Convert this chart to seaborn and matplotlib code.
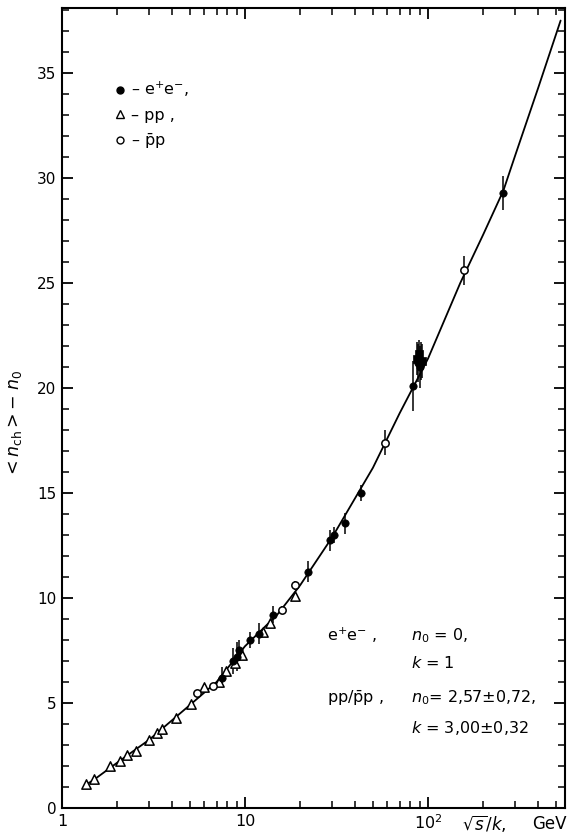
import numpy as np
import pandas as pd
import matplotlib
matplotlib.use("Agg")
import matplotlib.pyplot as plt
from matplotlib.lines import Line2D
from matplotlib.ticker import FixedLocator, MultipleLocator, LogLocator, NullFormatter
import seaborn as sns

# --- values -----------------------------------------------------------------
# fitted curve
CURVE_X = [1.35, 1.5, 2, 3, 5, 7, 10, 15, 20, 30, 50, 70, 100, 150, 200, 258,
           300, 400, 530]
CURVE_Y = [1.1, 1.35, 2.15, 3.25, 4.9, 6.0, 7.7, 9.2, 10.6, 12.9, 16.2, 18.8,
           21.4, 25.0, 27.3, 29.4, 31.1, 34.3, 37.5]

# pp (open triangles)
PP_X = [1.36, 1.50, 1.83, 2.07, 2.26, 2.53, 2.99, 3.29, 3.53, 4.20, 5.05, 6.0,
        7.2, 7.9, 8.8, 9.6, 12.5, 13.7, 18.8]
PP_Y = [1.14, 1.38, 2.0, 2.24, 2.52, 2.71, 3.24, 3.56, 3.75, 4.30, 4.94, 5.74,
        6.0, 6.5, 6.9, 7.3, 8.4, 8.8, 10.1]

# pbar-p (open circles)
PBP_X = [5.45, 6.65, 15.9, 18.8, 58.5, 157]
PBP_Y = [5.46, 5.8, 9.43, 10.6, 17.4, 25.6]
PBP_ERR = [0.0, 0.0, 0.2, 0.2, 0.6, 0.7]

# e+e- (solid circles)
EE_X = [7.5, 8.6, 9.0, 9.3, 10.6, 12.0, 14.2, 22.2, 29.1, 30.5, 35.3, 43,
        83, 88, 90, 92, 258]
EE_Y = [6.2, 7.0, 7.2, 7.5, 8.0, 8.3, 9.2, 11.25, 12.76, 13.0, 13.57, 15.0,
        20.1, 21.2, 21.0, 21.3, 29.3]
EE_ERR = [0.5, 0.6, 0.7, 0.5, 0.4, 0.5, 0.4, 0.5, 0.5, 0.4, 0.5, 0.4,
          1.2, 0.9, 1.0, 0.9, 0.8]

# e+e- near the Z pole (solid squares)
EEZ_X = [87, 89.5, 92.5]
EEZ_Y = [21.4, 21.6, 21.3]
EEZ_ERR = [0.8, 0.7, 0.8]

Y_TICKS = [0, 5, 10, 15, 20, 25, 30, 35]
X_TICKS = [1, 10, 100]
X_TICKLABELS = ["1", "10", "10$^2$"]

# --- style -------------------------------------------------------------------
sns.set_theme(style="ticks")
plt.rcParams.update({
    "font.family": ["DejaVu Sans"],
    "mathtext.fontset": "dejavusans",
    "font.size": 10,
    "text.color": "black",
    "axes.labelcolor": "black",
    "axes.linewidth": 1.5,
    "axes.edgecolor": "black",
    "xtick.direction": "in",
    "ytick.direction": "in",
    "xtick.top": True,
    "ytick.right": True,
    "xtick.color": "black",
    "ytick.color": "black",
    "xtick.labelsize": 11.5,
    "ytick.labelsize": 11,
})

fig = plt.figure(figsize=(5.73, 8.39), dpi=100)
ax = fig.add_axes([0.108, 0.037, 0.878, 0.9535])
ax.set_xscale("log")

curve = pd.DataFrame({"x": CURVE_X, "y": CURVE_Y})
sns.lineplot(data=curve, x="x", y="y", color="black", lw=1.3, ax=ax, zorder=2)

ax.errorbar(EE_X, EE_Y, yerr=EE_ERR, fmt="none", ecolor="black", elinewidth=1.1, zorder=3)
ax.errorbar(EEZ_X, EEZ_Y, yerr=EEZ_ERR, fmt="none", ecolor="black", elinewidth=1.1, zorder=3)
ax.errorbar(PBP_X, PBP_Y, yerr=PBP_ERR, fmt="none", ecolor="black", elinewidth=1.1, zorder=3)

sns.scatterplot(x=PP_X, y=PP_Y, marker="^", s=45, facecolor="white",
                edgecolor="black", linewidth=1.1, ax=ax, zorder=4)
sns.scatterplot(x=PBP_X, y=PBP_Y, marker="o", s=28, facecolor="white",
                edgecolor="black", linewidth=1.1, ax=ax, zorder=4)
sns.scatterplot(x=EE_X, y=EE_Y, marker="o", s=28, color="black",
                edgecolor="black", linewidth=0.5, ax=ax, zorder=5)
sns.scatterplot(x=EEZ_X, y=EEZ_Y, marker="s", s=30, color="black",
                edgecolor="black", linewidth=0.5, ax=ax, zorder=5)

ax.set_xlim(1, 560)
ax.set_ylim(0, 38.1)

ax.yaxis.set_major_locator(FixedLocator(Y_TICKS))
ax.yaxis.set_minor_locator(MultipleLocator(1))
ax.xaxis.set_major_locator(FixedLocator(X_TICKS))
ax.xaxis.set_minor_locator(LogLocator(base=10, subs=np.arange(2, 10)))
ax.xaxis.set_minor_formatter(NullFormatter())
ax.set_xticklabels(X_TICKLABELS)
ax.tick_params(which="major", length=8, width=1.3, pad=4)
ax.tick_params(which="minor", length=5, width=1.1)

ax.set_xlabel("")
ax.set_ylabel(r"$<n_{\rm ch}>-\ n_0$", fontsize=12.5, labelpad=2)
ax.yaxis.set_label_coords(-0.076, 0.48)

ax.text(0.795, -0.006, r"$\sqrt{s}/k$,", transform=ax.transAxes,
        ha="left", va="top", fontsize=12)
ax.text(0.935, -0.009, "GeV", transform=ax.transAxes,
        ha="left", va="top", fontsize=12)

# legend (top left)
handles = [
    Line2D([], [], marker="o", ls="none", color="black", markersize=5),
    Line2D([], [], marker="^", ls="none", mfc="white", mec="black", markersize=6),
    Line2D([], [], marker="o", ls="none", mfc="white", mec="black", markersize=5),
]
labels = ["– e$^{+}$e$^{-}$,", "– pp ,", r"– $\bar{\rm p}$p"]
ax.legend(handles, labels, loc="upper left", bbox_to_anchor=(0.09, 0.918),
          frameon=False, handlelength=0.8, handletextpad=0.3,
          labelspacing=0.55, fontsize=11.5, borderaxespad=0)

# fit parameters (bottom right)
tx = dict(transform=ax.transAxes, ha="left", va="center", fontsize=11.5)
ax.text(0.527, 0.216, "e$^{+}$e$^{-}$ ,", **tx)
ax.text(0.694, 0.216, r"$n_0$ = 0,", **tx)
ax.text(0.694, 0.181, r"$k$ = 1", **tx)
ax.text(0.527, 0.1375, r"pp/$\bar{\rm p}$p ,", **tx)
ax.text(0.694, 0.1375, r"$n_0$= 2,57$\pm$0,72,", **tx)
ax.text(0.694, 0.100, r"$k$ = 3,00$\pm$0,32", **tx)

fig.savefig("out.png", dpi=100, facecolor="white")
